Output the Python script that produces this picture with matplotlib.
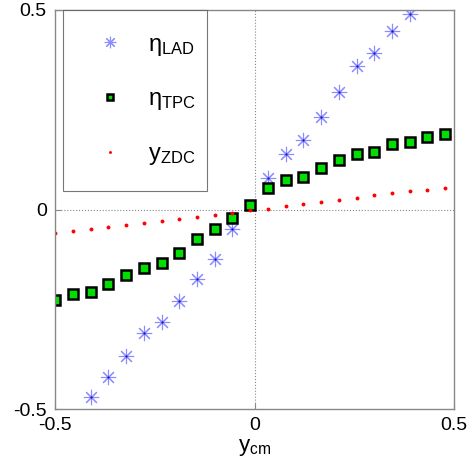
import matplotlib.pyplot as plt
import numpy as np

plt.rcParams['font.family'] = ['Liberation Sans', 'DejaVu Sans']
plt.rcParams['mathtext.fontset'] = 'custom'
plt.rcParams['mathtext.rm'] = 'Liberation Sans'
plt.rcParams['mathtext.it'] = 'Liberation Sans:italic'

# rapidity bins (ycm)
y_cm = [-0.500, -0.456, -0.411, -0.367, -0.322, -0.278, -0.233, -0.189,
        -0.144, -0.100, -0.056, -0.011, 0.033, 0.078, 0.122, 0.167,
        0.211, 0.256, 0.300, 0.344, 0.389, 0.433, 0.478]

# eta LAD: only bins falling inside the plotted window
lad_x = [-0.411, -0.367, -0.322, -0.278, -0.233, -0.189, -0.144, -0.100,
         -0.056, 0.033, 0.078, 0.122, 0.167, 0.211, 0.256, 0.300, 0.344, 0.389]
eta_lad = [-0.470, -0.420, -0.368, -0.310, -0.282, -0.229, -0.174, -0.123,
           -0.048, 0.080, 0.138, 0.175, 0.233, 0.294, 0.360, 0.393, 0.448, 0.491]

eta_tpc = [-0.226, -0.212, -0.206, -0.187, -0.164, -0.146, -0.134, -0.109,
           -0.074, -0.050, -0.021, 0.0125, 0.054, 0.074, 0.081, 0.103,
           0.123, 0.138, 0.145, 0.165, 0.170, 0.182, 0.190]

y_zdc = [-0.060, -0.055, -0.049, -0.045, -0.040, -0.035, -0.030, -0.024,
         -0.019, -0.013, -0.008, -0.0025, 0.0025, 0.0085, 0.014, 0.019,
         0.024, 0.030, 0.036, 0.041, 0.047, 0.050, 0.055]

fig = plt.figure(figsize=(4.72, 4.72), dpi=100)
ax = fig.add_axes([55/472, 1 - 409/472, 399/472, 399/472])

ax.axhline(0, color='#888888', ls=':', lw=0.8, zorder=0)
ax.axvline(0, color='#888888', ls=':', lw=0.8, zorder=0)

ax.plot(lad_x, eta_lad, ls='none', marker=(8, 2, 0), ms=11, mew=0.8,
        color='#4040ff', alpha=0.6, label=r'$\mathrm{\eta_{LAD}}$')
ax.plot(lad_x, eta_lad, ls='none', marker='o', ms=1.6, mew=0,
        color='#1010c0')
ax.plot(y_cm, eta_tpc, ls='none', marker='s', ms=6.5, mew=1.8,
        mfc='#00e000', mec='black', label=r'$\mathrm{\eta_{TPC}}$')
ax.plot(y_cm, y_zdc, ls='none', marker='o', ms=2.8, mew=0,
        color='red', label=r'$\mathrm{y_{ZDC}}$')

ax.set_xlim(-0.5, 0.5)
ax.set_ylim(-0.5, 0.5)
ax.set_xticks([-0.5, 0, 0.5])
ax.set_yticks([-0.5, 0, 0.5])
ax.set_xticklabels(['-0.5', '0', '0.5'])
ax.set_yticklabels(['-0.5', '0', '0.5'])
ax.tick_params(direction='in', length=4, color='#888888', labelsize=14, pad=6)
for s in ax.spines.values():
    s.set_color('#888888')
    s.set_linewidth(1.0)

ax.set_xlabel(r'$\mathrm{y_{cm}}$', fontsize=16, labelpad=2)

leg = ax.legend(loc='upper left', bbox_to_anchor=(0.02, 1.0, 0.361, 0.0),
                fontsize=17, frameon=True, fancybox=False, borderaxespad=0,
                labelspacing=1.3, handletextpad=0.6, borderpad=1.0,
                markerscale=0.75, mode='expand')
leg.get_frame().set_edgecolor('#555555')
leg.get_frame().set_linewidth(0.8)

fig.savefig('out.png', dpi=100)
